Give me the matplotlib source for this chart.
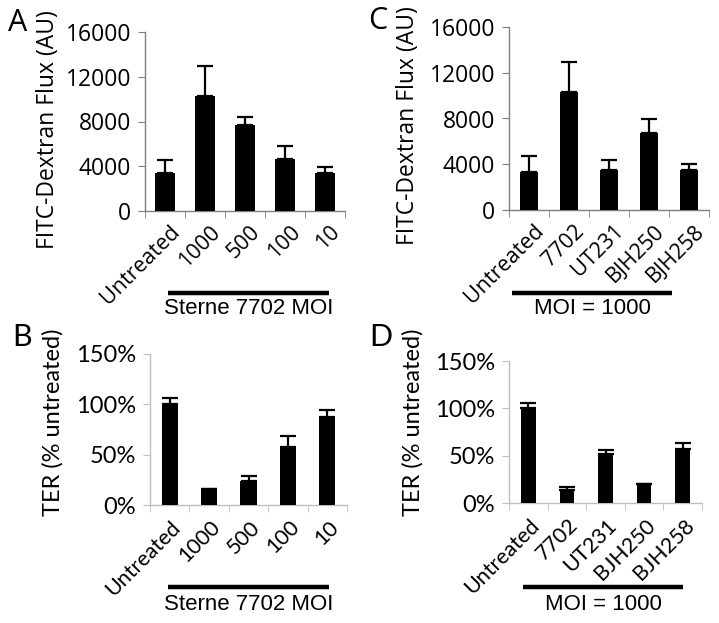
import matplotlib
matplotlib.use("Agg")
import matplotlib.pyplot as plt
from matplotlib.lines import Line2D
from matplotlib.transforms import ScaledTranslation

# ---------------- data ----------------
cats_moi = ["Untreated", "1000", "500", "100", "10"]
cats_strain = ["Untreated", "7702", "UT231", "BJH250", "BJH258"]

flux_moi = [3370, 10300, 7690, 4620, 3370]
flux_moi_err = [1190, 2630, 690, 1220, 590]

flux_strain = [3330, 10280, 3500, 6770, 3500]
flux_strain_err = [1400, 2630, 880, 1200, 530]

ter_moi = [100, 15.9, 24.2, 58.1, 87.9]
ter_moi_err = [6.2, 0.0, 4.3, 10.6, 6.0]

ter_strain = [100, 14.0, 51.9, 20.3, 56.8]
ter_strain_err = [5.8, 2.8, 4.2, 0.0, 6.3]

flux_ticks = [0, 4000, 8000, 12000, 16000]
ter_ticks = [0, 50, 100, 150]
ter_ticklabels = ["0%", "50%", "100%", "150%"]

W, H = 719, 623
fig = plt.figure(figsize=(W / 100, H / 100), dpi=100)


def px_axes(x0, x1, ytop, ybot):
    return fig.add_axes([x0 / W, 1 - ybot / H, (x1 - x0) / W, (ybot - ytop) / H])


def style_axes(ax, font, fsize, xfsize, axcolor, labels, ticks, ticklabels, ylim, bar_w,
               vals, errs, ldx, ldy):
    n = len(labels)
    x = list(range(n))
    ax.bar(x, vals, width=bar_w, color="black", zorder=3)
    ax.errorbar(x, vals, yerr=[[0] * n, errs], fmt="none", ecolor="black",
                elinewidth=1.6, capsize=5.5, capthick=1.6, zorder=4)
    ax.set_xlim(-0.5, n - 0.5)
    ax.set_ylim(*ylim)
    for s in ["top", "right"]:
        ax.spines[s].set_visible(False)
    for s in ["left", "bottom"]:
        ax.spines[s].set_color(axcolor)
        ax.spines[s].set_linewidth(1.0)
    ax.set_yticks(ticks)
    ax.set_yticklabels(ticklabels, fontfamily=font, fontsize=fsize)
    ax.tick_params(axis="y", direction="out", length=5, color=axcolor, pad=5)
    ax.set_xticks(x)
    ax.set_xticklabels([])
    ax.tick_params(axis="x", which="major", length=0)
    ax.set_xticks([i - 0.5 for i in range(n + 1)], minor=True)
    ax.tick_params(axis="x", which="minor", direction="out", length=5, color=axcolor)
    off = ScaledTranslation(ldx / 100, -ldy / 100, fig.dpi_scale_trans)
    for i, lab in enumerate(labels):
        ax.text(i, 0, lab, transform=ax.get_xaxis_transform() + off,
                fontfamily=font, fontsize=xfsize, rotation=45,
                ha="right", va="center", rotation_mode="anchor", clip_on=False)


OS = "Open Sans"
LT = "Lato"
AR = "Liberation Sans"
FS_AC = 16.5
FS_BD = 17

# Panel A
axA = px_axes(145, 345, 32, 211)
style_axes(axA, OS, FS_AC, 15.5, "#7f7f7f", cats_moi, flux_ticks,
           [str(t) for t in flux_ticks], (0, 16000), 0.48, flux_moi, flux_moi_err, 12, 18)

# Panel C
axC = px_axes(509, 709, 27, 210)
style_axes(axC, OS, FS_AC, 15.5, "#7f7f7f", cats_strain, flux_ticks,
           [str(t) for t in flux_ticks], (0, 16000), 0.47, flux_strain, flux_strain_err, 12, 18)

# Panel B
axB = px_axes(150, 347, 354, 505)
style_axes(axB, LT, FS_BD, 15.5, "#bfbfbf", cats_moi, ter_ticks, ter_ticklabels,
           (0, 150), 0.41, ter_moi, ter_moi_err, 8, 19)

# Panel D
axD = px_axes(509, 702, 361, 503)
style_axes(axD, LT, FS_BD, 15.5, "#bfbfbf", cats_strain, ter_ticks, ter_ticklabels,
           (0, 150), 0.38, ter_strain, ter_strain_err, 8, 19)

# y labels
fig.text(48 / W, 1 - 130 / H, "FITC-Dextran Flux (AU)", fontfamily=OS, fontsize=FS_AC,
         rotation=90, ha="center", va="center")
fig.text(408 / W, 1 - 126 / H, "FITC-Dextran Flux (AU)", fontfamily=OS, fontsize=FS_AC,
         rotation=90, ha="center", va="center")
fig.text(53 / W, 1 - 422 / H, "TER (% untreated)", fontfamily=LT, fontsize=FS_BD,
         rotation=90, ha="center", va="center")
fig.text(413 / W, 1 - 422 / H, "TER (% untreated)", fontfamily=LT, fontsize=FS_BD,
         rotation=90, ha="center", va="center")

# Panel letters
fig.text(18 / W, 1 - 23 / H, "A", fontfamily=OS, fontsize=22, ha="center", va="center")
fig.text(378 / W, 1 - 21 / H, "C", fontfamily=OS, fontsize=22, ha="center", va="center")
fig.text(22 / W, 1 - 337 / H, "B", fontfamily=LT, fontsize=22, ha="center", va="center")
fig.text(381 / W, 1 - 337 / H, "D", fontfamily=LT, fontsize=22, ha="center", va="center")

# group bars and labels
def group(x0, x1, ybar, ytext, text):
    fig.add_artist(Line2D([x0 / W, x1 / W], [1 - ybar / H, 1 - ybar / H],
                          color="black", lw=3.2, solid_capstyle="butt"))
    fig.text((x0 + x1) / 2 / W, 1 - ytext / H, text, fontfamily=AR, fontsize=16,
             ha="center", va="center")

group(168, 329, 293, 309, "Sterne 7702 MOI")
group(512, 672, 293, 309, "MOI = 1000")
group(168, 329, 587, 605, "Sterne 7702 MOI")
group(523, 683, 587, 605, "MOI = 1000")

fig.savefig("out.png", dpi=100)
